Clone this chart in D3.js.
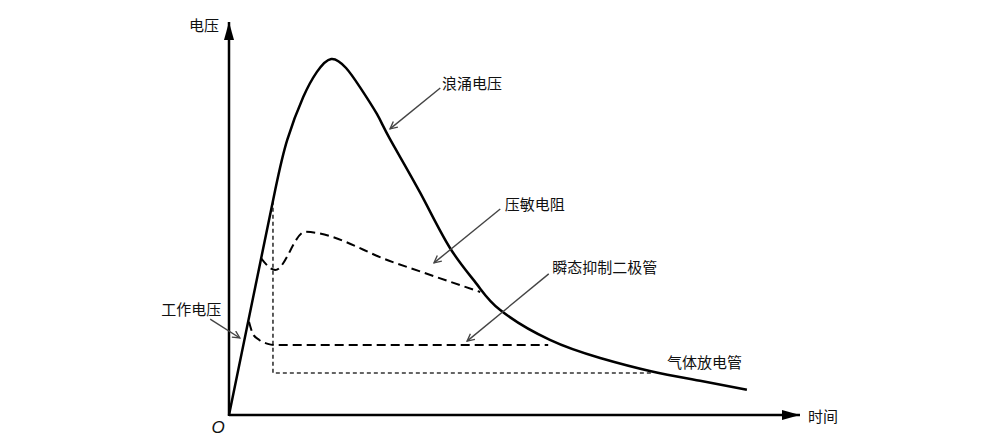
<!DOCTYPE html>
<html>
<head>
<meta charset="utf-8">
<script src="https://cdn.jsdelivr.net/npm/d3@7/dist/d3.min.js"></script>
<style>
  html, body { margin: 0; padding: 0; background: #fff; }
  svg { display: block; }
  text { font-family: "Noto Sans CJK SC", "Noto Sans", sans-serif; fill: #111; }
</style>
</head>
<body>
<svg id="chart" width="1000" height="445"></svg>
<script>
// ---- data (time / voltage in arbitrary units, 0..100) ----
const surgeTime    = [0, 4.6, 8.1, 10.2, 13.0, 15.4, 17.9, 20.5, 22.9, 25.9, 28.2, 33.5, 38.7, 43.4, 47.5, 56.2, 65.0, 73.7, 82.5, 90.7];
const surgeVoltage = [0, 32.6, 57.3, 70.0, 80.9, 87.3, 90.6, 88.3, 83.5, 76.6, 70.2, 56.5, 42.5, 33.3, 26.7, 19.1, 14.5, 11.2, 8.7, 6.4];

const varistorTime    = [5.6, 8.1, 13.3, 28.7, 44.0];
const varistorVoltage = [39.9, 36.9, 46.6, 38.9, 31.3];

const tvsTime    = [3.5, 4.2, 5.3, 6.8, 8.1, 55.9];
const tvsVoltage = [23.7, 20.6, 19.1, 18.1, 17.8, 17.8];

const gdtTime    = [7.7, 7.7, 74.1];
const gdtVoltage = [54.5, 10.7, 10.7];

const axisLabels = ["时间", "电压"];
const originLabel = "O";

// annotations: label, label anchor (t,v), arrow start (t,v), arrow end (t,v)
const annLabels   = ["工作电压", "浪涌电压", "压敏电阻", "瞬态抑制二极管", "气体放电管"];
const annLabelT   = [-6.6, 37.3, 48.3, 56.6, 76.7];
const annLabelV   = [27.2, 84.7, 53.7, 37.9, 13.5];
const annFromT    = [-3.3, 37.0, 47.5, 56.0, null];
const annFromV    = [24.4, 83.2, 52.4, 35.9, null];
const annToT      = [1.9, 28.2, 35.9, 41.7, null];
const annToV      = [19.6, 72.8, 38.7, 18.8, null];
const annAnchor   = ["middle", "start", "start", "start", "start"];

// ---- drawing ----
const svg = d3.select("#chart");
const x = d3.scaleLinear().domain([0, 100]).range([229, 800]);
const y = d3.scaleLinear().domain([0, 100]).range([415, 22]);

const defs = svg.append("defs");
defs.append("marker")
  .attr("id", "axisArrow")
  .attr("viewBox", "0 0 18 10")
  .attr("refX", 18).attr("refY", 5)
  .attr("markerWidth", 18).attr("markerHeight", 10)
  .attr("markerUnits", "userSpaceOnUse")
  .attr("orient", "auto")
  .append("path").attr("d", "M0,0 L18,5 L0,10 Z").attr("fill", "#000");
defs.append("marker")
  .attr("id", "annArrow")
  .attr("viewBox", "0 0 10 10")
  .attr("refX", 9).attr("refY", 5)
  .attr("markerWidth", 9).attr("markerHeight", 9)
  .attr("markerUnits", "userSpaceOnUse")
  .attr("orient", "auto")
  .append("path").attr("d", "M1,1 L9,5 L1,9").attr("fill", "none")
  .attr("stroke", "#444").attr("stroke-width", 1.5);

// axes
svg.append("line")
  .attr("x1", x(0)).attr("y1", y(0)).attr("x2", x(100)).attr("y2", y(0))
  .attr("stroke", "#000").attr("stroke-width", 2.5).attr("marker-end", "url(#axisArrow)");
svg.append("line")
  .attr("x1", x(0)).attr("y1", y(0) + 1).attr("x2", x(0)).attr("y2", y(100))
  .attr("stroke", "#000").attr("stroke-width", 2.5).attr("marker-end", "url(#axisArrow)");

const zip = (ts, vs) => ts.map((t, i) => [t, vs[i]]);

// gas discharge tube (dotted)
svg.append("path")
  .datum(zip(gdtTime, gdtVoltage))
  .attr("d", d3.line().x(d => x(d[0])).y(d => y(d[1])))
  .attr("fill", "none").attr("stroke", "#333").attr("stroke-width", 1.6)
  .attr("stroke-dasharray", "4,3");

// TVS diode (dashed)
svg.append("path")
  .datum(zip(tvsTime, tvsVoltage))
  .attr("d", d3.line().x(d => x(d[0])).y(d => y(d[1])).curve(d3.curveMonotoneX))
  .attr("fill", "none").attr("stroke", "#000").attr("stroke-width", 2)
  .attr("stroke-dasharray", "9,5");

// varistor (dashed)
svg.append("path")
  .datum(zip(varistorTime, varistorVoltage))
  .attr("d", d3.line().x(d => x(d[0])).y(d => y(d[1])).curve(d3.curveMonotoneX))
  .attr("fill", "none").attr("stroke", "#000").attr("stroke-width", 2)
  .attr("stroke-dasharray", "9,5");

// surge voltage (solid)
svg.append("path")
  .datum(zip(surgeTime, surgeVoltage))
  .attr("d", d3.line().x(d => x(d[0])).y(d => y(d[1])).curve(d3.curveNatural))
  .attr("fill", "none").attr("stroke", "#000").attr("stroke-width", 2.5)
  .attr("stroke-linejoin", "round");

// annotation arrows
annLabels.forEach((lab, i) => {
  if (annFromT[i] !== null) {
    svg.append("line")
      .attr("x1", x(annFromT[i])).attr("y1", y(annFromV[i]))
      .attr("x2", x(annToT[i])).attr("y2", y(annToV[i]))
      .attr("stroke", "#444").attr("stroke-width", 1.4)
      .attr("marker-end", "url(#annArrow)");
  }
  svg.append("text")
    .attr("x", x(annLabelT[i])).attr("y", y(annLabelV[i]))
    .attr("text-anchor", annAnchor[i])
    .attr("dominant-baseline", "central")
    .attr("font-size", 15)
    .text(lab);
});

// axis labels
svg.append("text").attr("x", x(100) + 8).attr("y", y(0))
  .attr("dominant-baseline", "central").attr("font-size", 15).text(axisLabels[0]);
svg.append("text").attr("x", x(0) - 10).attr("y", y(100) + 2)
  .attr("text-anchor", "end").attr("dominant-baseline", "central").attr("font-size", 15).text(axisLabels[1]);
svg.append("text").attr("x", x(0) - 11).attr("y", y(0) + 18)
  .attr("text-anchor", "middle").attr("font-size", 17).attr("font-style", "italic")
  .style("font-family", "'Liberation Sans', Arial, sans-serif").text(originLabel);
</script>
</body>
</html>
